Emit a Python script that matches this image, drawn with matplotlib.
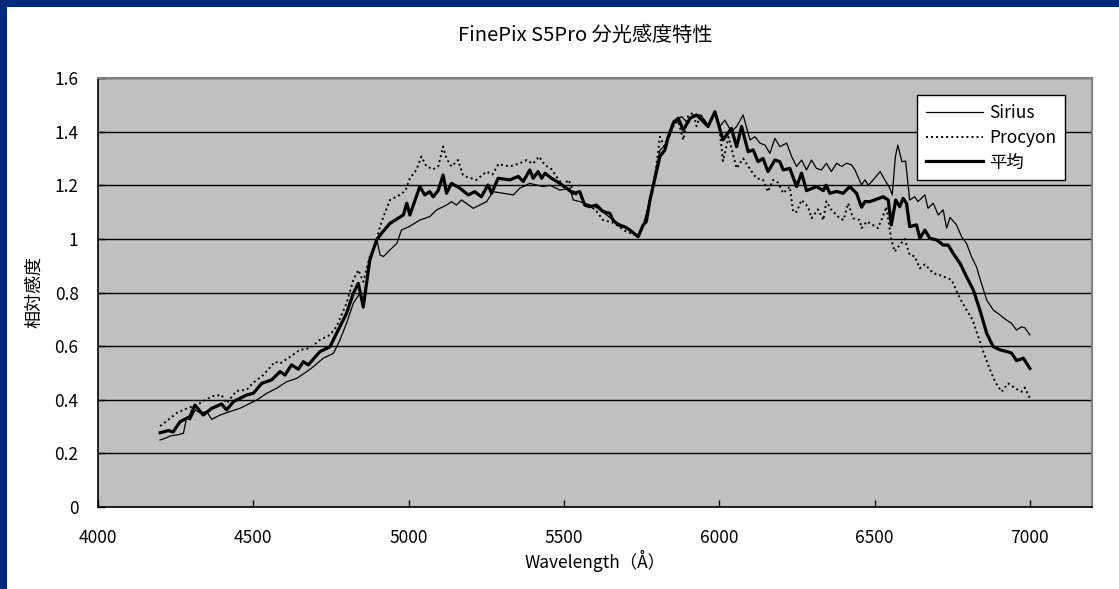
import matplotlib
matplotlib.use("Agg")
import matplotlib.pyplot as plt  # noqa: E402
from matplotlib.patches import Rectangle  # noqa: E402

plt.rcParams['font.family'] = ['Noto Sans CJK JP', 'DejaVu Sans']

# Sirius (thin solid)
sirius_wl = [4200, 4215, 4233, 4260, 4275, 4285, 4297, 4313, 4329, 4350, 4366, 4393, 4425,
             4457, 4490, 4511, 4543, 4575, 4607, 4640, 4672, 4693, 4725, 4758, 4779, 4800,
             4822, 4843, 4854, 4875, 4897, 4908, 4919, 4940, 4962, 4977, 5002, 5036, 5068,
             5090, 5122, 5138, 5154, 5170, 5208, 5251, 5272, 5304, 5337, 5358, 5390, 5433,
             5455, 5487, 5519, 5530, 5551, 5567, 5600, 5626, 5658, 5696, 5712, 5739, 5755,
             5777, 5809, 5825, 5852, 5879, 5900, 5916, 5940, 5964, 5986, 6002, 6018, 6039,
             6056, 6077, 6099, 6115, 6131, 6147, 6163, 6179, 6195, 6217, 6233, 6249, 6265,
             6281, 6297, 6313, 6329, 6345, 6361, 6378, 6394, 6410, 6426, 6437, 6458, 6469,
             6480, 6500, 6518, 6533, 6549, 6557, 6567, 6575, 6588, 6600, 6613, 6629, 6640,
             6662, 6672, 6689, 6705, 6721, 6732, 6743, 6764, 6780, 6796, 6812, 6828, 6844,
             6861, 6882, 6904, 6925, 6941, 6957, 6973, 6984, 7000]
sirius = [0.250, 0.256, 0.265, 0.270, 0.275, 0.331, 0.325, 0.362, 0.350, 0.356, 0.327, 0.343,
          0.356, 0.368, 0.387, 0.399, 0.424, 0.443, 0.467, 0.480, 0.505, 0.523, 0.555, 0.573,
          0.623, 0.685, 0.760, 0.797, 0.741, 0.921, 1.002, 0.940, 0.934, 0.959, 0.983, 1.033,
          1.046, 1.070, 1.083, 1.108, 1.126, 1.139, 1.126, 1.145, 1.114, 1.139, 1.176, 1.170,
          1.164, 1.189, 1.207, 1.195, 1.200, 1.182, 1.189, 1.145, 1.139, 1.133, 1.120, 1.100,
          1.070, 1.045, 1.033, 1.010, 1.050, 1.145, 1.330, 1.350, 1.440, 1.456, 1.430, 1.462,
          1.462, 1.425, 1.468, 1.419, 1.443, 1.400, 1.419, 1.462, 1.369, 1.381, 1.357, 1.350,
          1.319, 1.375, 1.344, 1.357, 1.307, 1.270, 1.294, 1.257, 1.294, 1.263, 1.257, 1.282,
          1.251, 1.282, 1.270, 1.282, 1.276, 1.257, 1.201, 1.220, 1.200, 1.226, 1.251, 1.220,
          1.189, 1.164, 1.307, 1.350, 1.288, 1.290, 1.145, 1.157, 1.139, 1.164, 1.114, 1.133,
          1.089, 1.108, 1.040, 1.080, 1.052, 1.008, 0.983, 0.934, 0.896, 0.834, 0.772, 0.735,
          0.716, 0.697, 0.685, 0.660, 0.672, 0.668, 0.642]

# Procyon (dotted)
procyon_wl = [4200, 4226, 4255, 4287, 4318, 4345, 4371, 4398, 4414, 4446, 4479, 4500, 4532,
              4570, 4586, 4618, 4650, 4682, 4714, 4747, 4768, 4800, 4822, 4838, 4854, 4875,
              4891, 4908, 4919, 4940, 4972, 4990, 5004, 5025, 5041, 5057, 5079, 5095, 5111,
              5122, 5138, 5159, 5175, 5186, 5218, 5251, 5270, 5289, 5326, 5358, 5380, 5400,
              5420, 5438, 5460, 5476, 5497, 5515, 5535, 5551, 5567, 5600, 5626, 5660, 5696,
              5739, 5760, 5777, 5795, 5809, 5825, 5852, 5868, 5884, 5900, 5916, 5927, 5940,
              5964, 5986, 6000, 6012, 6030, 6056, 6077, 6099, 6120, 6141, 6157, 6173, 6189,
              6206, 6227, 6238, 6249, 6265, 6286, 6297, 6318, 6335, 6345, 6361, 6388, 6400,
              6415, 6431, 6452, 6458, 6475, 6490, 6511, 6522, 6538, 6549, 6554, 6565, 6581,
              6597, 6613, 6629, 6646, 6662, 6689, 6710, 6748, 6775, 6796, 6816, 6834, 6850,
              6870, 6888, 6909, 6930, 6957, 6973, 6984, 7000]
procyon = [0.302, 0.325, 0.352, 0.368, 0.380, 0.399, 0.414, 0.418, 0.387, 0.433, 0.437, 0.464,
           0.492, 0.542, 0.535, 0.560, 0.586, 0.592, 0.623, 0.642, 0.673, 0.760, 0.847, 0.884,
           0.840, 0.934, 0.971, 1.046, 1.083, 1.145, 1.164, 1.180, 1.226, 1.257, 1.307, 1.270,
           1.260, 1.270, 1.344, 1.300, 1.270, 1.294, 1.238, 1.232, 1.220, 1.251, 1.240, 1.279,
           1.270, 1.282, 1.294, 1.280, 1.307, 1.276, 1.260, 1.232, 1.200, 1.220, 1.164, 1.170,
           1.130, 1.110, 1.070, 1.060, 1.030, 1.010, 1.060, 1.150, 1.250, 1.381, 1.340, 1.420,
           1.440, 1.369, 1.460, 1.470, 1.420, 1.465, 1.419, 1.470, 1.420, 1.290, 1.380, 1.263,
           1.300, 1.260, 1.226, 1.220, 1.176, 1.220, 1.210, 1.170, 1.195, 1.100, 1.101, 1.145,
           1.120, 1.077, 1.110, 1.070, 1.140, 1.108, 1.077, 1.070, 1.133, 1.077, 1.070, 1.040,
           1.065, 1.055, 1.040, 1.070, 1.120, 1.033, 0.996, 0.952, 0.977, 1.000, 0.940, 0.935,
           0.890, 0.905, 0.872, 0.865, 0.847, 0.778, 0.735, 0.697, 0.635, 0.579, 0.517, 0.467,
           0.430, 0.461, 0.440, 0.430, 0.445, 0.405]

# 平均 (thick solid)
avg_wl = [4200, 4226, 4242, 4264, 4296, 4312, 4339, 4366, 4398, 4414, 4436, 4479, 4500, 4527,
          4559, 4586, 4602, 4623, 4645, 4661, 4677, 4714, 4747, 4768, 4800, 4822, 4838, 4854,
          4875, 4897, 4913, 4940, 4983, 4994, 5004, 5036, 5052, 5068, 5079, 5095, 5111, 5122,
          5138, 5165, 5192, 5213, 5234, 5256, 5267, 5288, 5326, 5353, 5369, 5390, 5401, 5417,
          5428, 5439, 5460, 5487, 5508, 5530, 5551, 5567, 5583, 5605, 5615, 5626, 5648, 5658,
          5675, 5696, 5712, 5739, 5755, 5765, 5777, 5793, 5809, 5825, 5836, 5852, 5868, 5884,
          5906, 5927, 5938, 5964, 5986, 6012, 6039, 6056, 6072, 6093, 6109, 6125, 6141, 6157,
          6179, 6195, 6206, 6227, 6249, 6265, 6281, 6313, 6335, 6344, 6356, 6378, 6399, 6420,
          6442, 6458, 6469, 6485, 6528, 6544, 6554, 6568, 6581, 6592, 6603, 6613, 6635, 6646,
          6662, 6678, 6700, 6721, 6737, 6753, 6775, 6796, 6818, 6839, 6861, 6882, 6904, 6925,
          6941, 6957, 6979, 7000]
average = [0.277, 0.285, 0.280, 0.318, 0.337, 0.380, 0.343, 0.368, 0.384, 0.362, 0.393, 0.418,
           0.424, 0.461, 0.474, 0.505, 0.492, 0.530, 0.514, 0.542, 0.530, 0.579, 0.598, 0.648,
           0.722, 0.797, 0.834, 0.747, 0.921, 0.996, 1.021, 1.058, 1.089, 1.133, 1.089, 1.195,
           1.164, 1.176, 1.157, 1.180, 1.238, 1.170, 1.207, 1.189, 1.164, 1.176, 1.157, 1.201,
           1.170, 1.226, 1.220, 1.233, 1.214, 1.257, 1.226, 1.251, 1.226, 1.245, 1.226, 1.207,
           1.189, 1.170, 1.176, 1.126, 1.120, 1.126, 1.114, 1.102, 1.095, 1.070, 1.052, 1.045,
           1.033, 1.008, 1.052, 1.064, 1.145, 1.226, 1.307, 1.332, 1.381, 1.431, 1.450, 1.406,
           1.450, 1.462, 1.450, 1.419, 1.474, 1.369, 1.412, 1.344, 1.419, 1.325, 1.332, 1.288,
           1.300, 1.251, 1.294, 1.288, 1.257, 1.263, 1.195, 1.245, 1.180, 1.195, 1.180, 1.200,
           1.170, 1.177, 1.170, 1.195, 1.170, 1.118, 1.139, 1.139, 1.157, 1.145, 1.052, 1.145,
           1.120, 1.151, 1.132, 1.046, 1.052, 1.002, 1.033, 1.002, 0.996, 0.977, 0.977, 0.946,
           0.909, 0.859, 0.809, 0.735, 0.648, 0.598, 0.586, 0.580, 0.574, 0.546, 0.555, 0.517]

x_ticks = [4000, 4500, 5000, 5500, 6000, 6500, 7000]
y_ticks = [0, 0.2, 0.4, 0.6, 0.8, 1.0, 1.2, 1.4, 1.6]
y_tick_labels = ['0', '0.2', '0.4', '0.6', '0.8', '1', '1.2', '1.4', '1.6']

W, H = 1119, 589
fig = plt.figure(figsize=(W / 100, H / 100), dpi=100)
fig.patch.set_facecolor('white')

# dark blue frame at top and left
blue = '#012A78'
fig.patches.append(Rectangle((0, 1 - 7 / H), 1, 7 / H, transform=fig.transFigure,
                             facecolor=blue, edgecolor='none', zorder=0))
fig.patches.append(Rectangle((0, 0), 7 / W, 1, transform=fig.transFigure,
                             facecolor=blue, edgecolor='none', zorder=0))

ax = fig.add_axes([98 / W, 1 - 507 / H, (1092 - 98) / W, (507 - 78) / H])
ax.set_facecolor('#C0C0C0')

ax.plot(sirius_wl, sirius, color='black', lw=0.9, label='Sirius')
ax.plot(procyon_wl, procyon, color='black', lw=1.4, ls=(0, (1, 1.6)), label='Procyon')
ax.plot(avg_wl, average, color='black', lw=2.3, label='平均')

ax.set_xlim(4000, 7200)
ax.set_ylim(0, 1.6)
ax.set_xticks(x_ticks)
ax.set_yticks(y_ticks)
ax.set_yticklabels(y_tick_labels)
ax.grid(axis='y', color='black', lw=1.0)
ax.set_axisbelow(True)
ax.tick_params(direction='in', length=5, width=1, labelsize=12.5)
ax.tick_params(axis='y', pad=14)
ax.tick_params(axis='x', pad=16)
for s in ('left', 'bottom'):
    ax.spines[s].set_color('black')
    ax.spines[s].set_linewidth(1.2)
for s in ('top', 'right'):
    ax.spines[s].set_color('#808080')
    ax.spines[s].set_linewidth(1.5)

ax.set_xlabel('Wavelength（Å）', fontsize=12.5, labelpad=2)
ax.set_ylabel('相対感度', fontsize=13, labelpad=8)
fig.text(585 / W, 1 - 35 / H, 'FinePix S5Pro 分光感度特性', ha='center', va='center',
         fontsize=14.5)

leg = ax.legend(loc='upper left', bbox_to_anchor=((917 - 98) / (1092 - 98), 1 - (95 - 78) / (507 - 78)),
                fontsize=12.5, frameon=True, fancybox=False, framealpha=1, edgecolor='black',
                handlelength=3.3, handletextpad=0.35, borderpad=0.5, labelspacing=0.4,
                borderaxespad=0)
leg.get_frame().set_linewidth(1.0)

fig.savefig('out.png', dpi=100, facecolor=fig.get_facecolor())
